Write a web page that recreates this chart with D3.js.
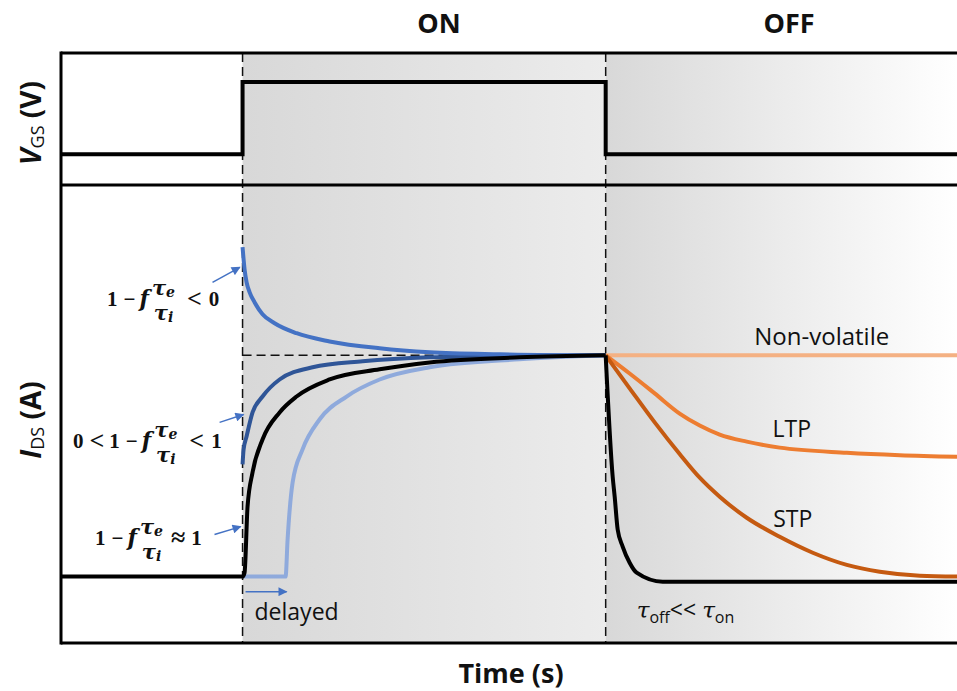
<!DOCTYPE html>
<html>
<head>
<meta charset="utf-8">
<script src="https://cdn.jsdelivr.net/npm/d3@7"></script>
<style>
  body { margin: 0; background: #fff; }
  svg { display: block; }
  .sans { font-family: "Open Sans", "Liberation Sans", sans-serif; fill: #111; }
  .math text { font-family: "Liberation Serif", "DejaVu Serif", serif; font-weight: bold; fill: #111; }
  .math .greek { font-family: "DejaVu Serif", serif; }
</style>
</head>
<body>
<script>
// ---- data -------------------------------------------------------------
// time in s; gate pulse switched on at t = 0 and off at t = 4
const timeDomain = [-2, 7.87];
const tOn = 0;
const tOff = 4;
const vgsDomain = [-0.425, 1.4];   // gate voltage, normalised
const idsDomain = [-0.3, 1.77];    // drain current, normalised to steady state

const vgsPulse = [[-2, 0], [0, 1], [4, 0], [7.87, 0]];

// ON phase responses
const onOvershoot = [[0, 1.489], [0.022, 1.389], [0.044, 1.331], [0.077, 1.286], [0.132, 1.24],
  [0.22, 1.186], [0.353, 1.145], [0.595, 1.1], [0.959, 1.063], [1.51, 1.032], [2.061, 1.014],
  [2.832, 1.005], [4, 1]];
const onPartial = [[0, 0.507], [0.011, 0.573], [0.044, 0.633], [0.11, 0.742], [0.22, 0.814],
  [0.408, 0.891], [0.771, 0.946], [1.322, 0.973], [2.06, 0.991], [3.05, 0.998], [4, 1]];
const onFull = [[-2, 0], [0, 0], [0.022, 0.018], [0.055, 0.317], [0.11, 0.471], [0.22, 0.62],
  [0.408, 0.742], [0.595, 0.814], [0.959, 0.891], [1.51, 0.937], [2.06, 0.968], [3.05, 0.991], [4, 1]];
const onDelayed = [[0, 0], [0.474, 0], [0.496, 0.167], [0.551, 0.425], [0.661, 0.575],
  [0.848, 0.71], [1.146, 0.814], [1.51, 0.891], [2.06, 0.946], [3.05, 0.982], [4, 1]];

// OFF phase relaxations
const offNonVolatile = [[4, 1], [7.87, 1]];
const offLTP = [[4, 1], [4.264, 0.918], [4.54, 0.828], [4.815, 0.737], [5.036, 0.683],
  [5.256, 0.642], [5.554, 0.61], [5.917, 0.583], [6.656, 0.56], [7.24, 0.549], [7.87, 0.542]];
const offSTP = [[4, 1], [4.264, 0.851], [4.54, 0.697], [4.815, 0.554], [5.036, 0.447],
  [5.256, 0.361], [5.554, 0.266], [5.917, 0.18], [6.281, 0.108], [6.656, 0.053],
  [7.019, 0.022], [7.46, 0.004], [7.87, 0.0]];
const offFast = [[4, 1], [4.077, 0.452], [4.099, 0.362], [4.132, 0.213], [4.187, 0.136],
  [4.264, 0.063], [4.341, 0.018], [4.628, -0.023], [7.87, -0.023]];

const seriesLabels = [
  { text: "Non-volatile", t: 6.38, v: 1.045 },
  { text: "LTP", t: 6.05, v: 0.629 },
  { text: "STP", t: 6.06, v: 0.226 }
];

// ---- layout -----------------------------------------------------------
const W = 957, H = 691;
const mLeft = 61, mRight = 957, mTop = 53, mSplit = 185, mBottom = 643;

const svg = d3.select("body").append("svg").attr("width", W).attr("height", H);

const x = d3.scaleLinear().domain(timeDomain).range([mLeft, mRight]);
const yV = d3.scaleLinear().domain(vgsDomain).range([mSplit, mTop]);
const yI = d3.scaleLinear().domain(idsDomain).range([mBottom, mSplit]);

const defs = svg.append("defs");
function gradient(id, from, to) {
  const g = defs.append("linearGradient").attr("id", id).attr("x1", 0).attr("x2", 1).attr("y1", 0).attr("y2", 0);
  g.append("stop").attr("offset", 0).attr("stop-color", from);
  g.append("stop").attr("offset", 1).attr("stop-color", to);
}
gradient("onShade", "#d8d8d8", "#ececec");
gradient("offShade", "#d8d8d8", "#ffffff");

defs.append("marker").attr("id", "arrow")
  .attr("viewBox", "0 0 10 10").attr("refX", 9).attr("refY", 5)
  .attr("markerWidth", 11).attr("markerHeight", 9).attr("markerUnits", "userSpaceOnUse")
  .attr("orient", "auto")
  .append("path").attr("d", "M0,0 L10,5 L0,10 z").attr("fill", "#4472C4");

// phase shading
svg.append("rect").attr("x", x(tOn)).attr("y", mTop).attr("width", x(tOff) - x(tOn)).attr("height", mBottom - mTop)
  .attr("fill", "url(#onShade)");
svg.append("rect").attr("x", x(tOff)).attr("y", mTop).attr("width", mRight - x(tOff)).attr("height", mBottom - mTop)
  .attr("fill", "url(#offShade)");

// switching instants
[tOn, tOff].forEach(t => {
  svg.append("line").attr("x1", x(t)).attr("x2", x(t)).attr("y1", mTop).attr("y2", mBottom)
    .attr("stroke", "#111").attr("stroke-width", 1.5).attr("stroke-dasharray", "9,5");
});
// steady-state reference
svg.append("line").attr("x1", x(tOn)).attr("x2", x(tOff)).attr("y1", yI(1)).attr("y2", yI(1))
  .attr("stroke", "#111").attr("stroke-width", 1.5).attr("stroke-dasharray", "9,5");

// gate pulse
svg.append("path").datum(vgsPulse)
  .attr("d", d3.line().x(d => x(d[0])).y(d => yV(d[1])).curve(d3.curveStepAfter))
  .attr("fill", "none").attr("stroke", "#000").attr("stroke-width", 4);

// current responses
const lineI = d3.line().x(d => x(d[0])).y(d => yI(d[1])).curve(d3.curveMonotoneX);
const curves = [
  { data: onDelayed, color: "#8FAADC" },
  { data: onPartial, color: "#2F5597" },
  { data: onOvershoot, color: "#4472C4" },
  { data: offNonVolatile, color: "#F4B183" },
  { data: offLTP, color: "#ED7D31" },
  { data: offSTP, color: "#C55A11" },
  { data: onFull, color: "#000000" },
  { data: offFast, color: "#000000" }
];
svg.append("g").selectAll("path").data(curves).join("path")
  .attr("d", d => lineI(d.data))
  .attr("fill", "none").attr("stroke", d => d.color).attr("stroke-width", 4)
  .attr("stroke-linejoin", "round");

// frame
const frame = svg.append("g").attr("stroke", "#000").attr("stroke-width", 3);
frame.append("line").attr("x1", mLeft).attr("x2", mLeft).attr("y1", mTop - 1.5).attr("y2", mBottom + 1.5);
[mTop, mSplit, mBottom].forEach(y => frame.append("line").attr("x1", mLeft).attr("x2", mRight).attr("y1", y).attr("y2", y));

// arrows
const arrows = [
  [[-0.331, 1.33], [-0.03, 1.398]],
  [[-0.253, 0.697], [0.011, 0.733]],
  [[-0.309, 0.19], [-0.02, 0.226]],
  [[0.033, -0.068], [0.485, -0.068]]
];
svg.append("g").selectAll("line").data(arrows).join("line")
  .attr("x1", d => x(d[0][0])).attr("y1", d => yI(d[0][1]))
  .attr("x2", d => x(d[1][0])).attr("y2", d => yI(d[1][1]))
  .attr("stroke", "#4472C4").attr("stroke-width", 1.5).attr("marker-end", "url(#arrow)");

// ---- text -------------------------------------------------------------
function sansText(str, px, py, size, weight, anchor) {
  return svg.append("text").attr("class", "sans").attr("x", px).attr("y", py)
    .attr("font-size", size).attr("font-weight", weight || "normal")
    .attr("text-anchor", anchor || "middle").text(str);
}
sansText("ON", 439, 33, 27, "bold");
sansText("OFF", 789, 33, 27, "bold");
sansText("Time (s)", 511, 683, 27, "bold");

seriesLabels.forEach((l, i) => sansText(l.text, x(l.t), yI(l.v), i === 0 ? 24 : 23));
sansText("delayed", x(0.132), yI(-0.195), 23, "normal", "start");

const tauLbl = svg.append("text").attr("class", "sans").attr("x", x(4.342)).attr("y", yI(-0.186)).attr("font-size", 23);
tauLbl.append("tspan").attr("font-style", "italic").attr("font-family", "DejaVu Serif").text("τ");
tauLbl.append("tspan").attr("font-size", 16).attr("dy", 5).text("off");
tauLbl.append("tspan").attr("dy", -5).text("<< ");
tauLbl.append("tspan").attr("font-style", "italic").attr("font-family", "DejaVu Serif").text("τ");
tauLbl.append("tspan").attr("font-size", 16).attr("dy", 5).text("on");

// rotated axis titles
function axisTitle(main, sub, unit, cy) {
  const t = svg.append("text").attr("class", "sans").attr("font-size", 28).attr("font-weight", "bold")
    .attr("text-anchor", "middle").attr("transform", `translate(41,${cy}) rotate(-90)`);
  t.append("tspan").attr("font-style", "italic").text(main);
  t.append("tspan").attr("font-size", 18).attr("font-weight", "normal").attr("dy", 3).text(sub);
  t.append("tspan").attr("dy", -3).text(" " + unit);
}
axisTitle("V", "GS", "(V)", 123);
axisTitle("I", "DS", "(A)", 420);

// condition labels: 1 - f * tau_e / tau_i
function mathLabel(x0, yb, tokens) {
  const g = svg.append("g").attr("class", "math");
  let cx = x0;
  tokens.forEach(tk => {
    if (tk.frac) {
      const parts = tk.frac.map((s, i) => {
        const t = g.append("text").attr("class", "greek").attr("y", yb + (i === 0 ? -11 : 14));
        t.append("tspan").attr("font-style", "italic").attr("font-size", 21).text("τ");
        t.append("tspan").attr("font-style", "italic").attr("font-size", 14).attr("dy", 2).text(s);
        return t;
      });
      const ws = parts.map(p => p.node().getComputedTextLength());
      const w = Math.max(...ws);
      parts.forEach((p, i) => p.attr("x", cx + (w - ws[i]) / 2));
      cx += w + (tk.gap ?? 4);
    } else {
      const size = tk.it ? 22 : (tk.rel ? 26 : 21);
      const t = g.append("text").attr("x", cx).attr("y", yb + (tk.rel ? 1 : 0))
        .attr("font-size", size)
        .attr("class", tk.it ? "greek" : null)
        .attr("font-style", tk.it ? "italic" : "normal").text(tk.s);
      cx += t.node().getComputedTextLength() + (tk.gap ?? 4);
    }
  });
}
mathLabel(107, 306, [{ s: "1", gap: 6 }, { s: "−", gap: 4 }, { s: "f", it: true, gap: 3 },
  { frac: ["e", "i"], gap: 12 }, { s: "<", rel: true, gap: 7 }, { s: "0" }]);
mathLabel(73, 448, [{ s: "0", gap: 6 }, { s: "<", rel: true, gap: 5 }, { s: "1", gap: 6 }, { s: "−", gap: 4 },
  { s: "f", it: true, gap: 3 }, { frac: ["e", "i"], gap: 12 }, { s: "<", rel: true, gap: 7 }, { s: "1" }]);
mathLabel(95, 545, [{ s: "1", gap: 6 }, { s: "−", gap: 4 }, { s: "f", it: true, gap: 3 },
  { frac: ["e", "i"], gap: 8 }, { s: "≈", rel: true, gap: 6 }, { s: "1" }]);
</script>
</body>
</html>
